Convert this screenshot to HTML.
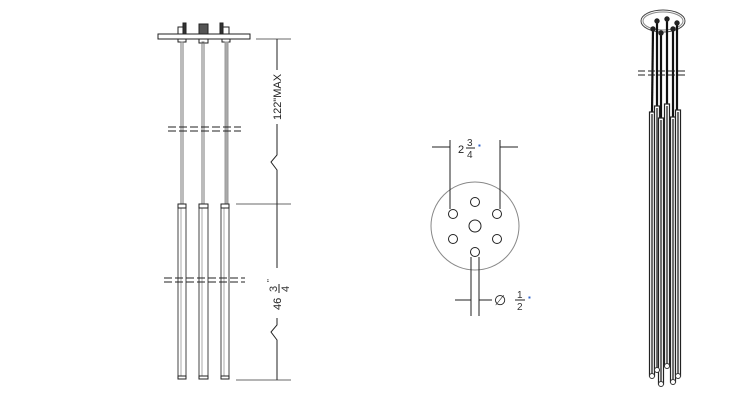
<!DOCTYPE html><html><head><style>body{margin:0;background:#fff}svg{display:block}text{font-family:"Liberation Sans",sans-serif}</style></head><body>
<svg width="750" height="420" viewBox="0 0 750 420" xmlns="http://www.w3.org/2000/svg">
<g stroke="#222" fill="none" stroke-width="1">
<rect x="158" y="34" width="92" height="5" fill="#fff"/>
<rect x="178" y="27" width="8" height="7" fill="#fff"/><rect x="183" y="23" width="3" height="11" fill="#333"/><rect x="199" y="24" width="9" height="10" fill="#555"/><rect x="221" y="27" width="8" height="7" fill="#fff"/><rect x="220" y="23" width="3" height="11" fill="#333"/>
<rect x="178" y="39" width="8" height="3"/><rect x="199" y="39" width="9" height="4"/><rect x="222" y="39" width="8" height="3"/>
<g stroke="#777"><rect x="181" y="42" width="2" height="162"/><rect x="202" y="42" width="2" height="162"/></g>
<rect x="225" y="42" width="3" height="162" fill="#aaa" stroke="#999"/>
<g fill="#fff" stroke="#444"><rect x="178" y="204" width="8" height="175"/><rect x="199" y="204" width="9" height="175"/><rect x="221" y="204" width="8" height="175"/></g>
<g stroke="#aaa"><line x1="181" y1="206" x2="181" y2="376"/><line x1="202" y1="206" x2="202" y2="376"/><line x1="224" y1="206" x2="224" y2="376"/></g>
<g fill="#fff"><rect x="178" y="204" width="8" height="4"/><rect x="199" y="204" width="9" height="4"/><rect x="221" y="204" width="8" height="4"/><rect x="178" y="376" width="8" height="3"/><rect x="199" y="376" width="9" height="3"/><rect x="221" y="376" width="8" height="3"/></g>
<g stroke-dasharray="8,3"><line x1="168" y1="127" x2="241" y2="127"/><line x1="168" y1="131" x2="241" y2="131"/><line x1="164" y1="278" x2="245" y2="278"/><line x1="164" y1="282" x2="245" y2="282"/></g>
<g stroke="#888" stroke-width="1.2"><line x1="256" y1="39" x2="291" y2="39"/><line x1="236" y1="204" x2="291" y2="204"/><line x1="236" y1="380" x2="291" y2="380"/></g>
<polyline points="277,39 277,70"/><polyline points="277,124 277,155 271,162 277,170 277,204 277,268"/><polyline points="277,318 277,325 271,332 277,340 277,380"/>
<circle cx="475" cy="226" r="44" stroke="#888"/>
<circle cx="475" cy="202" r="4.5"/><circle cx="453" cy="214" r="4.5"/><circle cx="497" cy="214" r="4.5"/><circle cx="475" cy="226" r="6"/><circle cx="453" cy="239" r="4.5"/><circle cx="497" cy="239" r="4.5"/><circle cx="475" cy="252" r="4.5"/>
<line x1="450" y1="140" x2="450" y2="209"/><line x1="500" y1="140" x2="500" y2="209"/>
<line x1="432" y1="147" x2="450" y2="147"/><line x1="500" y1="147" x2="518" y2="147"/>
<line x1="471" y1="257" x2="471" y2="316"/><line x1="479" y1="257" x2="479" y2="316"/>
<line x1="455" y1="300" x2="471" y2="300"/><line x1="479" y1="300" x2="492" y2="300"/>
<ellipse cx="663" cy="21" rx="22" ry="11" stroke="#444"/>
<ellipse cx="663" cy="21" rx="20" ry="9" stroke="#888"/>
<g stroke="#111" stroke-width="2.2"><line x1="653" y1="29" x2="652" y2="112"/><line x1="657" y1="21" x2="657" y2="106"/><line x1="661" y1="33" x2="661" y2="118"/><line x1="667" y1="19" x2="667" y2="104"/><line x1="673" y1="29" x2="673" y2="117"/><line x1="677" y1="23" x2="677" y2="110"/></g>
<g fill="#222"><circle cx="653" cy="29" r="2.2"/><circle cx="657" cy="21" r="2.2"/><circle cx="661" cy="33" r="2.2"/><circle cx="667" cy="19" r="2.2"/><circle cx="673" cy="29" r="2.2"/><circle cx="677" cy="23" r="2.2"/></g>
<g fill="#fff" stroke="#222" stroke-width="1.2"><rect x="649.5" y="112" width="5" height="264"/><rect x="654.5" y="106" width="5" height="264"/><rect x="658.5" y="118" width="5" height="266"/><rect x="664.5" y="104" width="5" height="262"/><rect x="670.5" y="117" width="5" height="265"/><rect x="675.5" y="110" width="5" height="266"/></g>
<g stroke="#111" stroke-width="1.2"><line x1="652" y1="114" x2="652" y2="374"/><line x1="657" y1="108" x2="657" y2="368"/><line x1="661" y1="120" x2="661" y2="382"/><line x1="667" y1="106" x2="667" y2="364"/><line x1="673" y1="119" x2="673" y2="380"/><line x1="678" y1="112" x2="678" y2="374"/></g>
<g fill="#fff" stroke="#333"><circle cx="652" cy="376" r="2.5"/><circle cx="657" cy="370" r="2.5"/><circle cx="661" cy="384" r="2.5"/><circle cx="667" cy="366" r="2.5"/><circle cx="673" cy="382" r="2.5"/><circle cx="678" cy="376" r="2.5"/></g>
<g stroke-dasharray="7,3"><line x1="638" y1="71" x2="688" y2="71"/><line x1="638" y1="75" x2="688" y2="75"/></g>
</g>
<text transform="translate(281,97) rotate(-90)" font-size="11" text-anchor="middle" fill="#222">122"MAX</text>
<g transform="translate(281,292) rotate(-90)" font-size="11" fill="#222"><text x="-18" y="0">46</text><text x="0" y="-4" font-size="11" fill="#333">3</text><line x1="-1" y1="-2" x2="8" y2="-2" stroke="#222"/><text x="0" y="8" font-size="11" fill="#333">4</text><text x="10" y="-8" font-size="8">"</text></g>
<text x="458" y="153" font-size="11" fill="#222">2</text><text x="467" y="146" font-size="10" fill="#333">3</text><line x1="466" y1="148" x2="475" y2="148" stroke="#222"/><text x="467" y="158" font-size="10" fill="#333">4</text><text x="478" y="148" font-size="8" fill="#36c">▪</text>
<text x="494" y="305" font-size="14" fill="#222">∅</text><text x="517" y="298" font-size="10" fill="#333">1</text><line x1="515" y1="300" x2="525" y2="300" stroke="#222"/><text x="517" y="310" font-size="10" fill="#333">2</text><text x="528" y="300" font-size="8" fill="#36c">▪</text>
</svg></body></html>
